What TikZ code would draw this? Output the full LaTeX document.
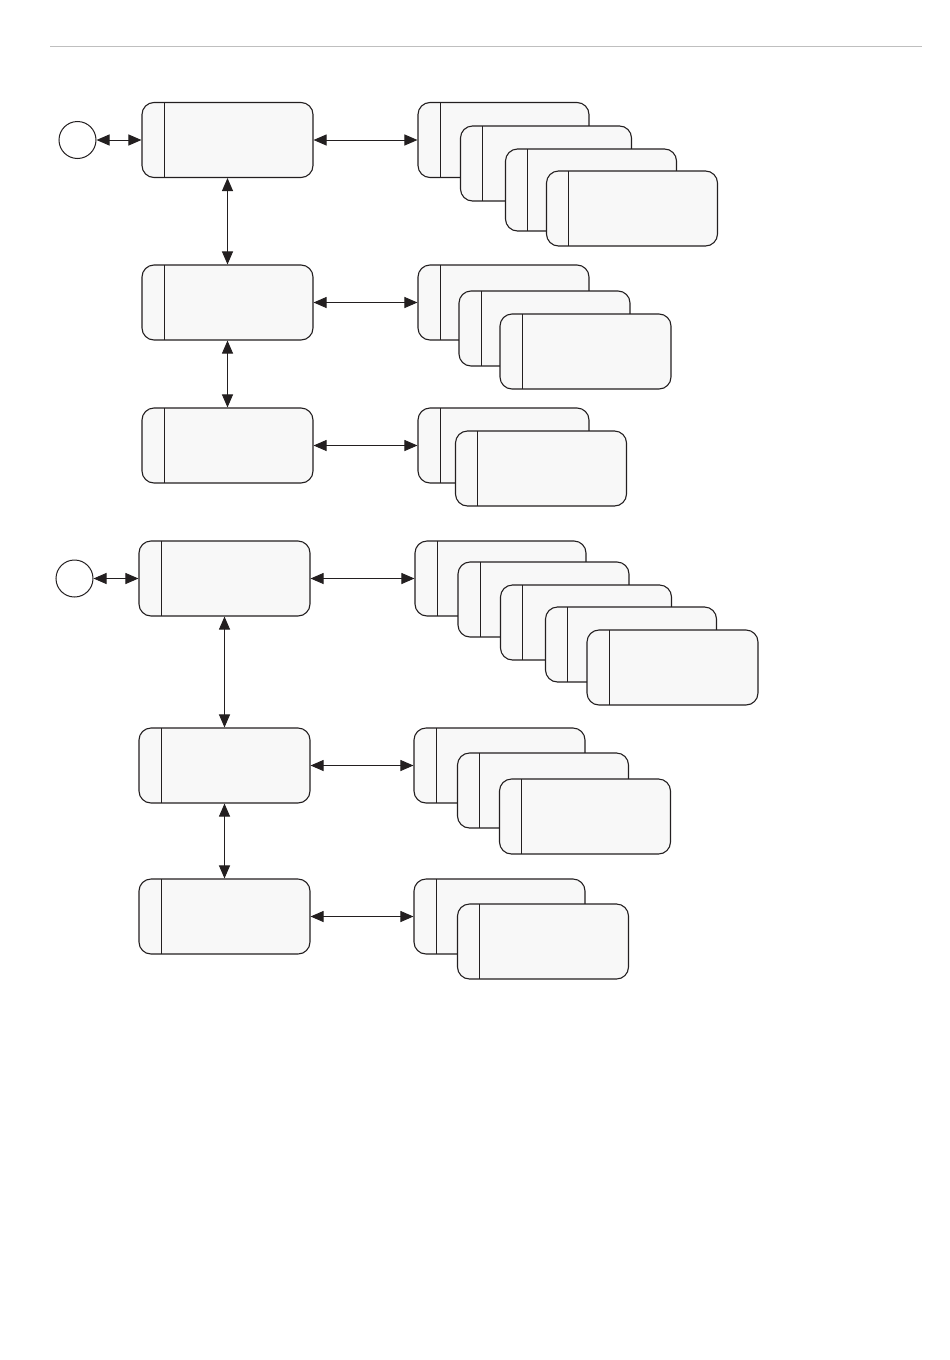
\documentclass[tikz,border=0pt]{standalone}
\usepackage{tikz}
\usetikzlibrary{arrows.meta,positioning}

\definecolor{boxfill}{HTML}{F8F8F8}
\definecolor{ink}{HTML}{231F20}

\tikzset{
  lane/.style={draw=ink, line width=1.1pt, fill=boxfill, rounded corners=12pt,
    minimum width=171pt, minimum height=75pt, inner sep=0pt,
    path picture={\draw[ink, line width=0.9pt]
      ([xshift=22pt]path picture bounding box.north west) --
      ([xshift=22pt]path picture bounding box.south west);}},
  start/.style={draw=ink, line width=1pt, circle, minimum size=37pt, inner sep=0pt},
  link/.style={<->, >={Triangle[length=13pt,width=11pt]}, ink, line width=1pt}
}

\begin{document}
\begin{tikzpicture}[x=1pt,y=-1pt]
  \useasboundingbox (0,0) rectangle (950,1360);
  \draw[black!25, line width=1pt] (50,46) -- (922,46);

  % first part
  \node[start] (s1) at (77.5,140) {};
  \node[lane] (p1) at (227.5,140) {};
  \node[lane] (p2) at (227.5,302.5) {};
  \node[lane] (p3) at (227.5,445.5) {};

  \node[lane] (p1a) at (503.5,140) {};
  \node[lane] (p1b) at (546,163.5) {};
  \node[lane, minimum height=82pt] (p1c) at (591,190) {};
  \node[lane] (p1d) at (632,208.5) {};

  \node[lane] (p2a) at (503.5,302.5) {};
  \node[lane] (p2b) at (544.5,328.5) {};
  \node[lane] (p2c) at (585.5,351.5) {};

  \node[lane] (p3a) at (503.5,445.5) {};
  \node[lane] (p3b) at (541,468.5) {};

  \draw[link] (s1) -- (p1);
  \draw[link] (p1) -- (p2);
  \draw[link] (p2) -- (p3);
  \draw[link] (p1.east) -- (p1a.west);
  \draw[link] (p2.east) -- (p2a.west);
  \draw[link] (p3.east) -- (p3a.west);

  % second part
  \node[start] (s2) at (74.5,578.5) {};
  \node[lane] (q1) at (224.5,578.5) {};
  \node[lane] (q2) at (224.5,765.5) {};
  \node[lane] (q3) at (224.5,916.5) {};

  \node[lane] (q1a) at (500.5,578.5) {};
  \node[lane] (q1b) at (543.5,599.5) {};
  \node[lane] (q1c) at (586,622.5) {};
  \node[lane] (q1d) at (631,644.5) {};
  \node[lane] (q1e) at (672.5,667.5) {};

  \node[lane] (q2a) at (499.5,765.5) {};
  \node[lane] (q2b) at (543,790.5) {};
  \node[lane] (q2c) at (585,816.5) {};

  \node[lane] (q3a) at (499.5,916.5) {};
  \node[lane] (q3b) at (543,941.5) {};

  \draw[link] (s2) -- (q1);
  \draw[link] (q1) -- (q2);
  \draw[link] (q2) -- (q3);
  \draw[link] (q1.east) -- (q1a.west);
  \draw[link] (q2.east) -- (q2a.west);
  \draw[link] (q3.east) -- (q3a.west);
\end{tikzpicture}
\end{document}
